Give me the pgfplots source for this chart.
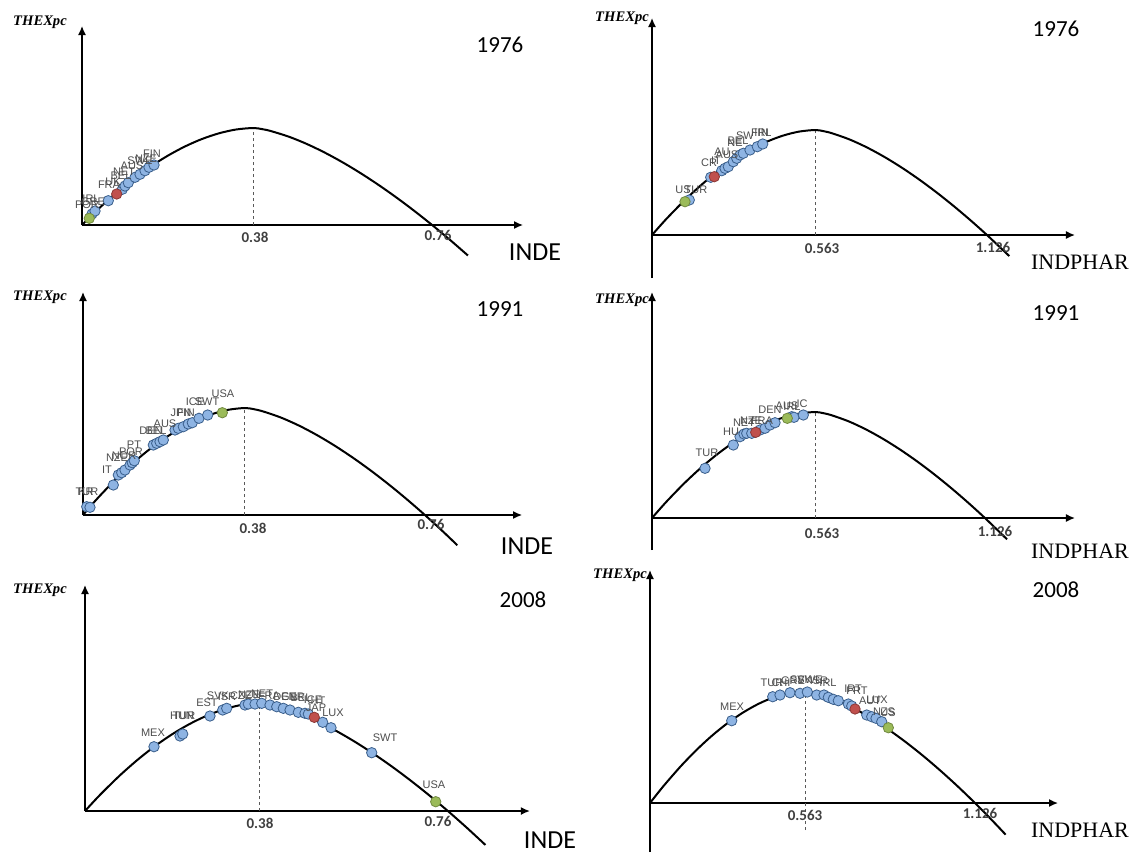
\documentclass[border=0pt]{standalone}
\usepackage{pgfplots}
\pgfplotsset{compat=1.18}
\usetikzlibrary{arrows.meta}
\usepackage{fontspec}
\setmainfont{Carlito}
\newfontfamily\ar{Liberation Sans}
\newfontfamily\se{Liberation Serif}
\definecolor{bfill}{HTML}{8EB4E3}
\definecolor{bedge}{HTML}{385D8A}
\definecolor{rfill}{HTML}{C0504D}
\definecolor{redge}{HTML}{8C3836}
\definecolor{gfill}{HTML}{9BBB59}
\definecolor{gedge}{HTML}{71893F}
\definecolor{lab}{HTML}{4D4D4D}
\definecolor{tick}{HTML}{404040}
\pgfplotsset{
 panel/.style={axis lines=middle, axis line style={line width=0.7pt,-{Latex[length=4.5pt,width=4pt]}},
   xtick=\empty, ytick=\empty, enlargelimits=false, clip=false, anchor=origin, y=0.5pt},
 curve/.style={black, line width=1pt, smooth, no marks},
 dsh/.style={black!65, line width=0.5pt, dash pattern=on 1.5pt off 1.5pt, no marks},
 bpt/.style={only marks, mark=*, mark size=2.6pt, mark options={fill=bfill, draw=bedge, line width=0.4pt}},
 rpt/.style={only marks, mark=*, mark size=2.6pt, mark options={fill=rfill, draw=redge, line width=0.4pt}},
 gpt/.style={only marks, mark=*, mark size=2.6pt, mark options={fill=gfill, draw=gedge, line width=0.4pt}},
}
\newcommand{\C}[3]{\node[font=\ar\fontsize{5.5}{5.5}\selectfont, text=lab, inner sep=0pt] at (#1*0.5pt,-#2*0.5pt) {#3};}
\newcommand{\TK}[3]{\node[font=\fontsize{7.5}{8}\selectfont\bfseries, text=tick, inner sep=0pt] at (#1*0.5pt,-#2*0.5pt) {#3};}
\newcommand{\YR}[3]{\node[font=\fontsize{11.5}{12}\selectfont, inner sep=0pt] at (#1*0.5pt,-#2*0.5pt) {#3};}
\newcommand{\XL}[3]{\node[font=\fontsize{13}{14}\selectfont, inner sep=0pt] at (#1*0.5pt,-#2*0.5pt) {#3};}
\newcommand{\XP}[3]{\node[font=\se\fontsize{11}{12}\selectfont, inner sep=0pt] at (#1*0.5pt,-#2*0.5pt) {#3};}
\newcommand{\YL}[2]{\node[font=\se\fontsize{7.3}{8}\selectfont\bfseries\itshape, inner sep=0pt] at (#1*0.5pt,-#2*0.5pt) {THEXpc};}
\begin{document}
\begin{tikzpicture}
\useasboundingbox (0,0) rectangle (566.5pt,-426pt);
% ---------------- TL 1976 INDE
\begin{axis}[panel, at={(41pt,-112.5pt)}, x=225pt, xmin=0, xmax=0.98, ymin=0, ymax=199]
\addplot[dsh] coordinates {(0.38,0) (0.38,97)};
\addplot[curve] coordinates {(0,0) (.019,8.56) (.038,16.76) (.076,32.09) (.114,45.95) (.152,58.33) (.19,69.14) (.228,78.36) (.266,85.89) (.304,91.65) (.342,95.47) (.38,97) (.3999,95.92) (.4198,93.93) (.4596,88.32) (.4994,81.06) (.5392,72.46) (.579,62.71) (.6188,51.92) (.6586,40.19) (.6984,27.59) (.7382,14.18) (.778,0) (.8178,-14.91) (.8576,-30.51)};
\addplot[bpt] coordinates {(0.0222,11) (0.0289,14) (0.0584,24.3) (0.0896,35.7) (0.0956,39) (0.1029,42.3) (0.1178,47.7) (0.1289,50.7) (0.14,54.3) (0.1489,57.7) (0.16,60)};
\addplot[rpt] coordinates {(0.0771,31)};
\addplot[gpt] coordinates {(0.0162,6.7)};
\end{axis}
% ---------------- TR 1976 INDPHAR
\begin{axis}[panel, at={(326pt,-117.5pt)}, x=144.75pt, xmin=0, xmax=1.461, ymin=-43, ymax=217]
\addplot[dsh] coordinates {(0.563,0) (0.563,105)};
\addplot[curve] coordinates {(0,0) (.02815,9.26) (.0563,18.14) (.1126,34.73) (.1689,49.74) (.2252,63.14) (.2815,74.84) (.3378,84.82) (.3941,92.98) (.4504,99.2) (.5067,103.34) (.563,105) (.5927,103.83) (.6224,101.68) (.6818,95.61) (.7412,87.75) (.8006,78.44) (.86,67.88) (.9194,56.2) (.9788,43.51) (1.0382,29.87) (1.0976,15.35) (1.157,0) (1.2342,-21.1)};
\addplot[bpt] coordinates {(0.1288,35) (0.2028,57.7) (0.2408,64.3) (0.2522,66.7) (0.2636,68.3) (0.2808,73.3) (0.2926,76.7) (0.304,80) (0.3154,81.7) (0.3385,85) (0.3637,88.3) (0.3824,91)};
\addplot[rpt] coordinates {(0.2152,58.3)};
\addplot[gpt] coordinates {(0.114,33.3)};
\end{axis}
% ---------------- ML 1991 INDE
\begin{axis}[panel, at={(41.5pt,-257.5pt)}, x=213.15pt, xmin=0, xmax=1.03, ymin=0, ymax=223]
\addplot[dsh] coordinates {(0.38,0) (0.38,107)};
\addplot[curve] coordinates {(0,0) (.019,9.44) (.038,18.49) (.076,35.4) (.114,50.69) (.152,64.34) (.19,76.27) (.228,86.43) (.266,94.75) (.304,101.09) (.342,105.31) (.38,107) (.4011,105.8) (.4222,103.62) (.4644,97.43) (.5066,89.42) (.5488,79.93) (.591,69.17) (.6332,57.27) (.6754,44.33) (.7176,30.44) (.7598,15.64) (.802,0) (.8442,-16.44) (.878,-30.2)};
\addplot[bpt] coordinates {(0.0087,8.3) (0.0164,7.7) (0.0711,30) (0.0828,40) (0.0908,42.3) (0.0985,45) (0.1103,50) (0.1156,52.3) (0.1203,54.3) (0.1649,70) (0.1729,71.7) (0.1806,73.3) (0.1884,75) (0.2158,85) (0.2236,86.7) (0.2353,88.3) (0.247,91) (0.2564,92.3) (0.2721,96.7) (0.2925,100)};
\addplot[gpt] coordinates {(0.3268,102.3)};
\end{axis}
% ---------------- MR 1991 INDPHAR
\begin{axis}[panel, at={(326pt,-259pt)}, x=144.75pt, xmin=0, xmax=1.461, ymin=-32, ymax=226]
\addplot[dsh] coordinates {(0.563,0) (0.563,106)};
\addplot[curve] coordinates {(0,0) (.02815,9.35) (.0563,18.32) (.1126,35.06) (.1689,50.21) (.2252,63.74) (.2815,75.56) (.3378,85.63) (.3941,93.86) (.4504,100.15) (.5067,104.33) (.563,106) (.5924,104.81) (.6217,102.65) (.6804,96.52) (.7391,88.58) (.7978,79.18) (.8565,68.52) (.9152,56.74) (.9739,43.92) (1.0326,30.15) (1.0913,15.5) (1.15,0) (1.2263,-21.3)};
\addplot[bpt] coordinates {(0.1831,49.7) (0.2808,73) (0.304,81.3) (0.3178,84) (0.3271,84.7) (0.3444,84.7) (0.3731,88) (0.3903,89.7) (0.4076,93) (0.4249,95.3) (0.4826,101.3) (0.4905,100.7) (0.5226,103)};
\addplot[rpt] coordinates {(0.3582,85.7)};
\addplot[gpt] coordinates {(0.4674,99.7)};
\end{axis}
% ---------------- BL 2008 INDE
\begin{axis}[panel, at={(42.5pt,-405.5pt)}, x=230.25pt, xmin=0, xmax=0.966, ymin=0, ymax=226]
\addplot[dsh] coordinates {(0.38,0) (0.38,108)};
\addplot[curve] coordinates {(0,0) (.019,9.53) (.038,18.66) (.076,35.73) (.114,51.16) (.152,64.94) (.19,76.98) (.228,87.24) (.266,95.63) (.304,102.04) (.342,106.29) (.38,108) (.4004,106.79) (.4208,104.58) (.4616,98.34) (.5024,90.25) (.5432,80.68) (.584,69.82) (.6248,57.81) (.6656,44.75) (.7064,30.72) (.7472,15.79) (.788,0) (.8288,-16.6) (.8696,-33.97)};
\addplot[bpt] coordinates {(0.1498,64.3) (0.2063,75) (0.2122,77) (0.2714,95) (0.299,101) (0.3077,102.7) (0.3474,106) (0.3546,107) (0.3692,107) (0.3837,107.7) (0.4017,106) (0.4163,104.3) (0.4306,102.7) (0.4452,101) (0.4632,98.7) (0.4777,97.7) (0.4849,97) (0.5162,88.7) (0.5342,83.3) (0.6226,58.3)};
\addplot[rpt] coordinates {(0.4979,93.7)};
\addplot[gpt] coordinates {(0.7616,9.3)};
\end{axis}
% ---------------- BR 2008 INDPHAR
\begin{axis}[panel, at={(325pt,-401.5pt)}, x=137.65pt, xmin=0, xmax=1.482, ymin=-49, ymax=233]
\addplot[dsh] coordinates {(0.563,-27) (0.563,112)};
\addplot[curve] coordinates {(0,0) (.02815,9.88) (.0563,19.35) (.1126,37.05) (.1689,53.05) (.2252,67.35) (.2815,79.83) (.3378,90.47) (.3941,99.18) (.4504,105.82) (.5067,110.23) (.563,112) (.5939,110.75) (.6248,108.46) (.6865,101.98) (.7483,93.6) (.81,83.67) (.8718,72.4) (.9335,59.95) (.9953,46.41) (1.057,31.86) (1.1188,16.37) (1.1805,0) (1.2422,-17.21) (1.2917,-31.6)};
\addplot[bpt] coordinates {(0.2968,82.3) (0.4457,106.3) (0.4722,108) (0.5085,110.3) (0.5449,109.7) (0.5714,111) (0.6055,108) (0.632,108) (0.6477,105.7) (0.6658,103.7) (0.684,102.3) (0.7203,99) (0.7327,97) (0.7872,88) (0.8053,86.3) (0.8209,84.7) (0.8416,81.3)};
\addplot[rpt] coordinates {(0.7447,94)};
\addplot[gpt] coordinates {(0.8656,75.3)};
\end{axis}
% ---------------- texts
\YL{40}{22} \YL{622}{18} \YL{40}{297} \YL{622}{300} \YL{40}{590} \YL{620}{575}
\YR{500}{45}{1976} \YR{1056}{29}{1976} \YR{500}{309}{1991} \YR{1056}{313}{1991} \YR{523}{600}{2008} \YR{1056}{590}{2008}
\XL{535}{252}{INDE} \XL{527}{546}{INDE} \XL{550}{840}{INDE}
\XP{1080}{262}{INDPHAR} \XP{1080}{551}{INDPHAR} \XP{1080}{830}{INDPHAR}
\TK{255}{237}{0.38} \TK{438}{235}{0.76} \TK{822}{248}{0.563} \TK{993}{247}{1.126}
\TK{253}{528}{0.38} \TK{431}{524}{0.76} \TK{822}{533}{0.563} \TK{995}{531}{1.126}
\TK{260}{823}{0.38} \TK{438}{821}{0.76} \TK{805}{815}{0.563} \TK{980}{813}{1.126}
% TL labels
\C{152}{154}{FIN} \C{140}{161}{SWE} \C{146}{159}{NZE} \C{132}{166}{AUS} \C{124}{172}{NET} \C{121}{176}{BEL} \C{113}{182}{UK} \C{109}{185}{FRA} \C{91}{199}{IRL} \C{93}{202}{GRE} \C{87}{205}{POR}
% TR labels
\C{683}{190}{US} \C{696}{190}{TUR} \C{709}{163}{CR} \C{716}{161}{IT} \C{722}{152}{AU} \C{727}{155}{AUS} \C{735}{143}{NE} \C{738}{141}{BEL} \C{745}{136}{SW} \C{760}{133}{FIN} \C{763}{133}{IRL}
% ML labels
\C{86}{492}{KR} \C{87}{492}{TUR} \C{107}{470}{IT} \C{117}{458}{NZE} \C{124}{456}{NOR} \C{131}{452}{POR} \C{134}{445}{PT} \C{151}{431}{DEN} \C{156}{431}{BEL} \C{165}{424}{AUS} \C{181}{413}{JPN} \C{186}{413}{FIN} \C{195}{402}{ICE} \C{207}{402}{SWT} \C{223}{394}{USA}
% MR labels
\C{707}{453}{TUR} \C{731}{432}{HU} \C{744}{423}{NET} \C{751}{421}{NZE} \C{762}{421}{FRA} \C{770}{410}{DEN} \C{787}{406}{AUS} \C{792}{407}{IRL} \C{802}{404}{IC}
% BL labels
\C{153}{733}{MEX} \C{182}{716}{HUN} \C{184}{716}{TUR} \C{207}{703}{EST} \C{218}{696}{SVK} \C{227}{697}{ISR} \C{241}{696}{CZE} \C{249}{695}{NZE} \C{262}{694}{NET} \C{269}{696}{FRA} \C{285}{697}{DEN} \C{293}{697}{GER} \C{301}{698}{BEL} \C{313}{700}{ICE} \C{318}{701}{HT} \C{316}{708}{JAP} \C{333}{713}{LUX} \C{385}{738}{SWT} \C{434}{785}{USA}
% BR labels
\C{732}{707}{MEX} \C{772}{683}{TUR} \C{781}{683}{CHI} \C{793}{681}{GRE} \C{801}{680}{SVK} \C{810}{680}{SWE} \C{819}{681}{ISR} \C{828}{683}{IRL} \C{853}{689}{IRT} \C{857}{691}{FRT} \C{870}{701}{AUT} \C{877}{700}{LUX} \C{884}{712}{NZS} \C{888}{713}{US}
\end{tikzpicture}
\end{document}
